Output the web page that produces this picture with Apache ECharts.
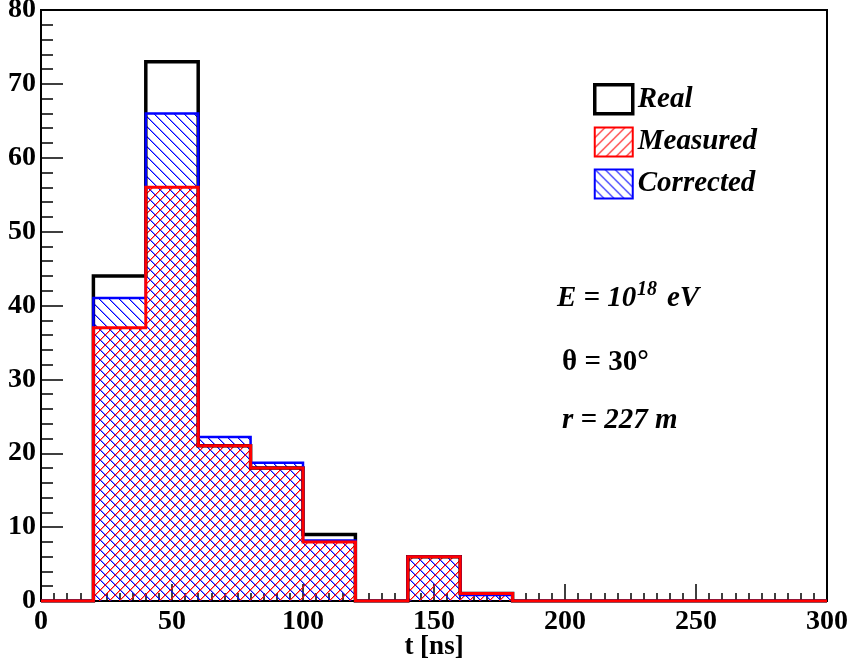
<!DOCTYPE html>
<html>
<head>
<meta charset="utf-8">
<script src="https://cdn.jsdelivr.net/npm/echarts@6/dist/echarts.min.js"></script>
<style>
    html, body { margin: 0; padding: 0; background: #fff; }
    #chart { width: 849px; height: 664px; }
</style>
</head>
<body>
<div id="chart"></div>
<script>
    // histogram bins, 20 ns wide
    var binEdges = [0, 20, 40, 60, 80, 100, 120, 140, 160, 180, 200, 220, 240, 260, 280, 300];
    var realCounts      = [0, 44, 73, 21,   18,   9,   0, 6, 1,   0, 0, 0, 0, 0, 0];
    var measuredCounts  = [0, 37, 56, 21,   18,   8,   0, 6, 1,   0, 0, 0, 0, 0, 0];
    var correctedCounts = [0, 41, 66, 22.2, 18.7, 8.2, 0, 6, 0.8, 0, 0, 0, 0, 0, 0];
    var seriesNames = ['Real', 'Measured', 'Corrected'];

    var serif = '"Liberation Serif", "Times New Roman", serif';

    // edges + counts -> points for a stepped line
    function stepData(counts) {
        var pts = counts.map(function (c, i) { return [binEdges[i], c]; });
        pts.push([binEdges[binEdges.length - 1], counts[counts.length - 1]]);
        return pts;
    }

    // hatch tile, dir 1 = "/", -1 = "\" ; one solid pixel + a faint neighbour
    function hatch(rgb, dir, size) {
        var c = document.createElement('canvas');
        c.width = size; c.height = size;
        var ctx = c.getContext('2d');
        for (var i = 0; i < size; i++) {
            var y = dir > 0 ? size - 1 - i : i;
            ctx.fillStyle = 'rgb(' + rgb + ')';
            ctx.fillRect(i, y, 1, 1);
            ctx.fillStyle = 'rgba(' + rgb + ',0.45)';
            ctx.fillRect((i + 1) % size, y, 1, 1);
        }
        return { image: c, repeat: 'repeat' };
    }

    var redHatch = hatch('255,0,0', 1, 10);
    var blueHatch = hatch('0,0,255', -1, 10);

    var myChart = echarts.init(document.getElementById('chart'), null, { renderer: 'canvas' });

    function histSeries(name, counts, color, width, fill) {
        var s = {
            name: name,
            type: 'line',
            step: 'end',
            symbol: 'none',
            data: stepData(counts),
            itemStyle: { color: color },
            lineStyle: { color: color, width: width, join: 'miter' },
            animation: false
        };
        if (fill) {
            s.areaStyle = { color: fill, opacity: 1 };
        }
        return s;
    }

    myChart.setOption({
        backgroundColor: '#fff',
        animation: false,
        grid: {
            left: 41, right: 22, top: 10, bottom: 63,
            outerBoundsMode: 'none',
            containLabel: false,
            show: true, borderColor: '#000', borderWidth: 2
        },
        legend: {
            orient: 'vertical',
            left: 588, top: 78,
            itemWidth: 38, itemHeight: 29, itemGap: 11,
            selectedMode: false,
            textStyle: { fontFamily: serif, fontSize: 29, fontWeight: 'bold', fontStyle: 'italic', color: '#000' },
            data: [
                { name: seriesNames[0], icon: 'rect', itemStyle: { color: '#fff', borderColor: '#000', borderWidth: 3.5 } },
                { name: seriesNames[1], icon: 'rect', itemStyle: { color: redHatch, borderColor: '#ff0000', borderWidth: 2 } },
                { name: seriesNames[2], icon: 'rect', itemStyle: { color: blueHatch, borderColor: '#0000ff', borderWidth: 2 } }
            ]
        },
        xAxis: {
            type: 'value',
            min: 0, max: 300, interval: 50,
            name: 't [ns]',
            nameLocation: 'middle',
            nameMoveOverlap: false,
            nameGap: 33,
            nameTextStyle: { fontFamily: serif, fontSize: 27, fontWeight: 'bold', color: '#000' },
            axisLine: { lineStyle: { color: '#000', width: 2 } },
            axisTick: { inside: true, length: 17, lineStyle: { color: '#000', width: 1.5 } },
            minorTick: { show: true, splitNumber: 10, length: 8, lineStyle: { color: '#000', width: 1.5 } },
            axisLabel: { margin: 7, fontFamily: serif, fontSize: 28, fontWeight: 'bold', color: '#000' },
            splitLine: { show: false }
        },
        yAxis: {
            type: 'value',
            min: 0, max: 80, interval: 10,
            axisLine: { show: true, lineStyle: { color: '#000', width: 2 } },
            axisTick: { show: true, inside: true, length: 22, lineStyle: { color: '#000', width: 1.5 } },
            minorTick: { show: true, splitNumber: 5, length: 12, lineStyle: { color: '#000', width: 1.5 } },
            axisLabel: { margin: 5, fontFamily: serif, fontSize: 28, fontWeight: 'bold', color: '#000' },
            splitLine: { show: false }
        },
        graphic: [
            { type: 'text', x: 557, y: 299, style: { text: 'E = 10', font: 'italic bold 29px ' + serif, fill: '#000', verticalAlign: 'middle' } },
            { type: 'text', x: 637, y: 290, style: { text: '18', font: 'italic bold 20px ' + serif, fill: '#000', verticalAlign: 'middle' } },
            { type: 'text', x: 667, y: 299, style: { text: 'eV', font: 'italic bold 29px ' + serif, fill: '#000', verticalAlign: 'middle' } },
            { type: 'text', x: 562, y: 363, style: { text: 'θ = 30°', font: 'bold 29px ' + serif, fill: '#000', verticalAlign: 'middle' } },
            { type: 'text', x: 562, y: 421, style: { text: 'r = 227 m', font: 'italic bold 29px ' + serif, fill: '#000', verticalAlign: 'middle' } }
        ],
        series: [
            histSeries(seriesNames[0], realCounts, '#000000', 3.5, null),
            histSeries(seriesNames[2], correctedCounts, '#0000ff', 2.5, blueHatch),
            histSeries(seriesNames[1], measuredCounts, '#ff0000', 3, redHatch)
        ]
    });
</script>
</body>
</html>
